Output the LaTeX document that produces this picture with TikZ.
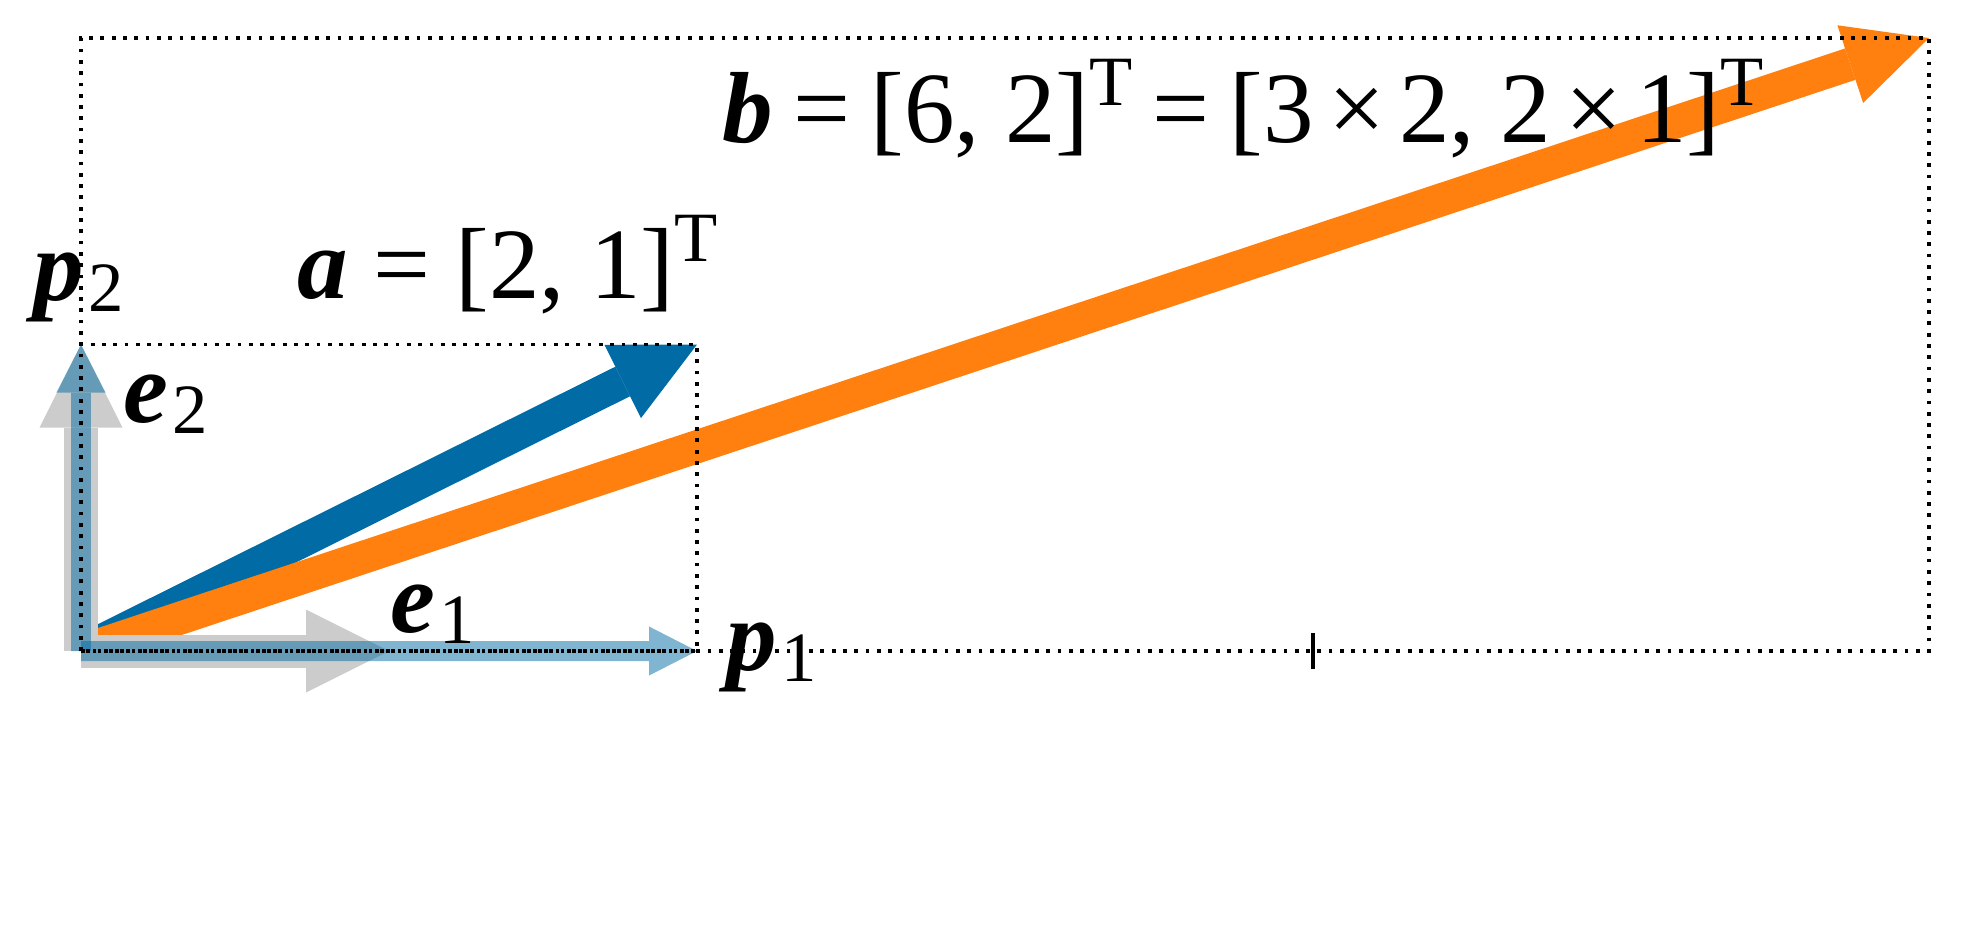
\documentclass[tikz,border=0pt]{standalone}
\usepackage{fontspec}
\setmainfont{Liberation Serif}
\usetikzlibrary{arrows.meta}
\definecolor{vecblue}{HTML}{006BA4}
\definecolor{vecorange}{HTML}{FF800E}
\definecolor{basisgray}{HTML}{CCCCCC}
\tikzstyle{vec} = [line width=9.15pt, -{Triangle[length=23pt, width=22.7pt, line width=0pt]}]
\tikzstyle{basis} = [line width=9.15pt, draw=basisgray, -{Triangle[length=23pt, width=23pt, line width=0pt]}]
\tikzstyle{proj} = [line width=5.54pt, draw=vecblue, -{Triangle[length=13.3pt, width=13.6pt, line width=0pt]}]
\tikzstyle{guide} = [line width=1.05pt, dash pattern=on 1.05pt off 2.08pt]
\tikzstyle{tickmark} = [line width=1.1pt]
\tikzstyle{lbl} = [inner sep=0pt, anchor=base west, font=\fontsize{28}{30}\selectfont]
\newcommand{\bvec}[1]{\textbf{\textit{#1}}}
\newcommand{\lsub}[1]{\raisebox{-0.11em}{\fontsize{19.6}{20}\selectfont #1}}
\newcommand{\lsup}[1]{\raisebox{0.36em}{\fontsize{19.6}{20}\selectfont #1}}
\newcommand{\eqs}{\hspace{0.2em}=\hspace{0.2em}}
\newcommand{\tms}{\hspace{0.14em}×\hspace{0.14em}}
\begin{document}
\begin{tikzpicture}[x=3cm, y=2.9854cm]

\useasboundingbox (-0.263,-0.9299) rectangle (6.1656,2.124);

\coordinate (O) at (0,0);
\coordinate (e1) at (1,0);
\coordinate (e2) at (0,1);
\coordinate (p1) at (2,0);
\coordinate (p2) at (0,1);
\coordinate (a) at (2,1);
\coordinate (b) at (6,2);

% vectors a and b
\draw[vec, draw=vecblue] (O) -- (a);
\draw[vec, draw=vecorange] (O) -- (b);

% basis e
\draw[basis] (O) -- (e1);
\draw[basis] (O) -- (e2);

% basis p
\begin{scope}[transparency group, opacity=0.5]
\draw[proj] (O) -- (p1);
\end{scope}
\begin{scope}[transparency group, opacity=0.5]
\draw[proj] (O) -- (p2);
\end{scope}

\draw[guide] (O) rectangle (a);
\draw[guide] (O) rectangle (b);
\draw[tickmark] (4,0) ++(0,-0.0587) -- ++(0,0.1174);

\node[lbl] (p2lbl) at (-0.1558,1.1452) {\bvec{p}\hspace{0.04em}\lsub{2}};
\node[lbl] (e2lbl) at (0.1364,0.7471) {\bvec{e}\hspace{0.04em}\lsub{2}};
\node[lbl] (e1lbl) at (1.0032,0.0620) {\bvec{e}\hspace{0.04em}\lsub{1}};
\node[lbl] (p1lbl) at (2.0942,-0.0620) {\bvec{p}\hspace{0.04em}\lsub{1}};
\node[lbl] (albl) at (0.7013,1.1517) {\bvec{a} = [2, 1]\lsup{T}};
\node[lbl] (blbl) at (2.0812,1.6607) {\bvec{b}\eqs[6, 2]\lsup{T}\eqs[3\tms 2, 2\tms 1]\lsup{T}};

\end{tikzpicture}
\end{document}
